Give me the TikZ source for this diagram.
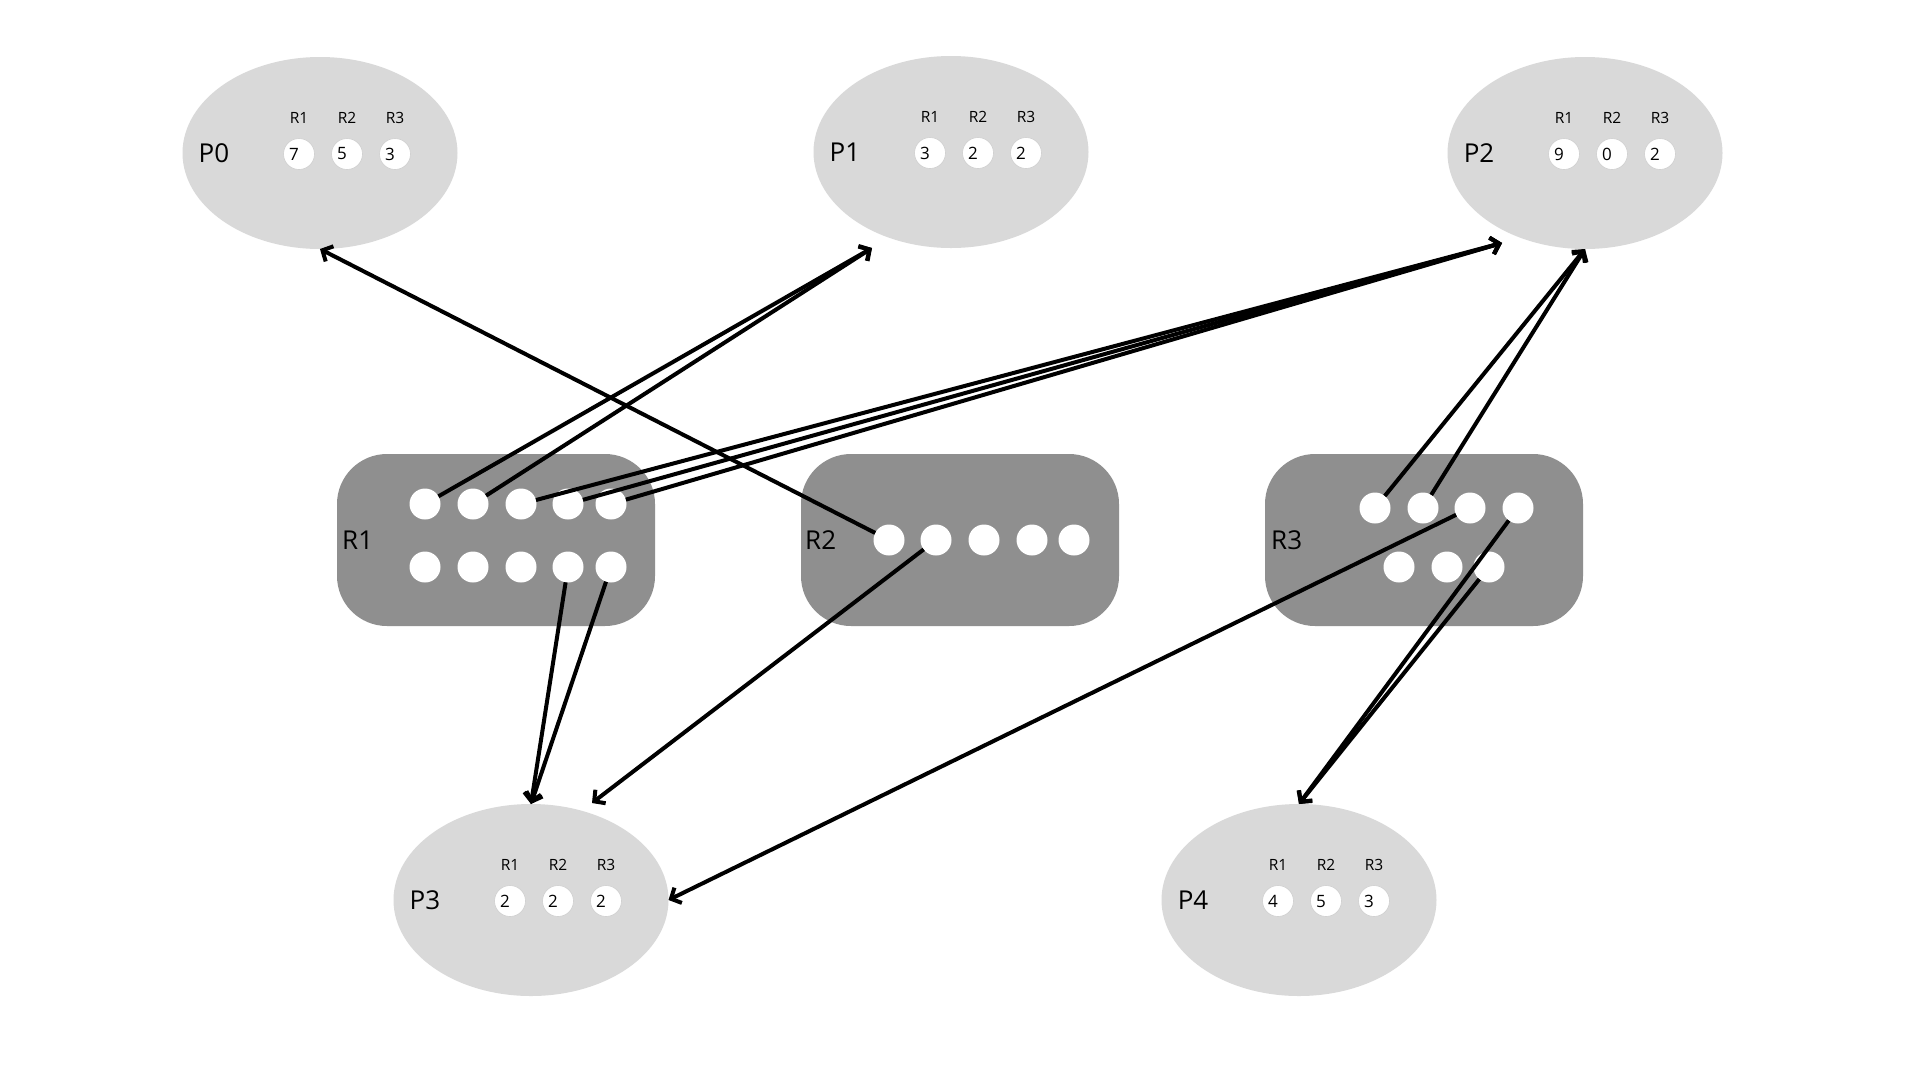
\documentclass[tikz,border=0pt]{standalone}
\usepackage{fontspec}
\setmainfont{Open Sans}
\usetikzlibrary{arrows.meta,shapes.geometric}
\definecolor{pgray}{HTML}{D9D9D9}
\definecolor{rgray}{HTML}{8F8F8F}
\definecolor{ring}{HTML}{CFCFCF}
\newcommand\mkproc[7]{%
  \node[proc] (#1) at (#2,#3) {};
  \node[big] (#1lab) at ([shift={(-106,0)}]#1.center) {#4};
  \node[cell] (#1a) at ([shift={(-21,1)}]#1.center) {};
  \node[cell] (#1b) at ([shift={(27,1)}]#1.center) {};
  \node[cell] (#1c) at ([shift={(75,1)}]#1.center) {};
  \node[num] (#1an) at ([shift={(-5,0)}]#1a.center) {#5};
  \node[num] (#1bn) at ([shift={(-5,0)}]#1b.center) {#6};
  \node[num] (#1cn) at ([shift={(-5,0)}]#1c.center) {#7};
  \node[small] (#1ah) at ([shift={(0,-36)}]#1a.center) {R1};
  \node[small] (#1bh) at ([shift={(0,-36)}]#1b.center) {R2};
  \node[small] (#1ch) at ([shift={(0,-36)}]#1c.center) {R3};
}
\begin{document}
\begin{tikzpicture}[x=1pt,y=-1pt,
  proc/.style={ellipse, fill=pgray, minimum width=275pt, minimum height=192pt, inner sep=0pt, outer sep=0pt},
  res/.style={rectangle, rounded corners=50pt, fill=rgray, minimum width=318pt, minimum height=172pt, inner sep=0pt, outer sep=0pt},
  tok/.style={circle, fill=white, minimum size=31pt, inner sep=0pt, outer sep=0pt},
  cell/.style={circle, fill=white, draw=ring, line width=0.6pt, minimum size=31pt, inner sep=0pt, outer sep=0pt},
  big/.style={font=\fontsize{26}{30}\selectfont, inner sep=0pt},
  small/.style={font=\fontsize{15.5}{18}\selectfont, inner sep=0pt},
  num/.style={font=\fontsize{17}{20}\selectfont, inner sep=0pt},
  link/.style={line width=4pt, -{Straight Barb[length=8pt,width=17pt]}}
]
\useasboundingbox (0,0) rectangle (1920,1080);
\fill[white] (0,0) rectangle (1920,1080);

% processes
\mkproc{p0}{320}{153}{P0}{7}{5}{3}
\mkproc{p1}{951}{152}{P1}{3}{2}{2}
\mkproc{p2}{1585}{153}{P2}{9}{0}{2}
\mkproc{p3}{531}{900}{P3}{2}{2}{2}
\mkproc{p4}{1299}{900}{P4}{4}{5}{3}

% resources
\node[res] (r1) at (496,540) {};
\node[res] (r2) at (960,540) {};
\node[res] (r3) at (1424,540) {};
\node[big, anchor=west] (r1lab) at ([shift={(5,0)}]r1.west) {R1};
\node[big, anchor=west] (r2lab) at ([shift={(4,0)}]r2.west) {R2};
\node[big, anchor=west] (r3lab) at ([shift={(6,0)}]r3.west) {R3};

\node[tok] (r1t1) at (425,504) {};
\node[tok] (r1t2) at (473,504) {};
\node[tok] (r1t3) at (521,504) {};
\node[tok] (r1t4) at (568,504) {};
\node[tok] (r1t5) at (611,504) {};
\node[tok] (r1b1) at (425,567) {};
\node[tok] (r1b2) at (473,567) {};
\node[tok] (r1b3) at (521,567) {};
\node[tok] (r1b4) at (568,567) {};
\node[tok] (r1b5) at (611,567) {};

\node[tok] (r2t1) at (889,540) {};
\node[tok] (r2t2) at (936,540) {};
\node[tok] (r2t3) at (984,540) {};
\node[tok] (r2t4) at (1032,540) {};
\node[tok] (r2t5) at (1074,540) {};

\node[tok] (r3t1) at (1375,508) {};
\node[tok] (r3t2) at (1423,508) {};
\node[tok] (r3t3) at (1470,508) {};
\node[tok] (r3t4) at (1518,508) {};
\node[tok] (r3b1) at (1399,567) {};
\node[tok] (r3b2) at (1447,567) {};
\node[tok] (r3b3) at (1489,567) {};

% arrow targets
\coordinate (p1in) at ([shift={(-79,96)}]p1.center);
\coordinate (p2in) at ([shift={(-83,90)}]p2.center);
\coordinate (p3in) at ([shift={(61,-97)}]p3.center);

% connectors
\draw[link] (r2t1) -- (p0.south);
\draw[link] (r1t1) -- (p1in);
\draw[link] (r1t2) -- (p1in);
\draw[link] (r1t3) -- (p2in);
\draw[link] (r1t4) -- (p2in);
\draw[link] (r1t5) -- (p2in);
\draw[link] (r1b4) -- (p3.north);
\draw[link] (r1b5) -- (p3.north);
\draw[link] (r2t2) -- (p3in);
\draw[link] (r3t1) -- (p2.south);
\draw[link] (r3t2) -- (p2.south);
\draw[link] (r3t3) -- (p3.east);
\draw[link] (r3t4) -- (p4.north);
\draw[link] (r3b3) -- (p4.north);
\end{tikzpicture}
\end{document}
